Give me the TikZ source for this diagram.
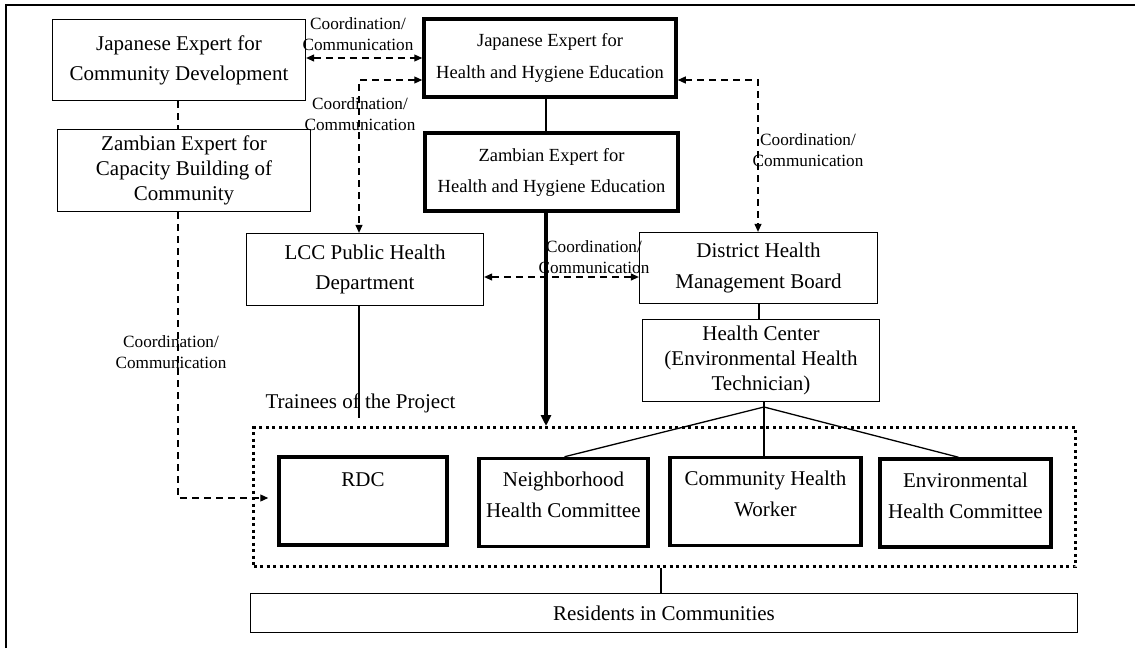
\documentclass[tikz,border=0pt]{standalone}
\usepackage{fontspec}
\setmainfont{Liberation Serif}
\usetikzlibrary{arrows.meta}
\begin{document}
\begin{tikzpicture}[x=1pt,y=-1pt,
  >={Triangle[length=8pt,width=7pt]},
  base/.style={draw,inner sep=0pt,align=center},
  thinbox/.style={base,line width=1.3pt,font=\fontsize{21}{31}\selectfont},
  thickbox/.style={base,line width=3.5pt,font=\fontsize{21}{31}\selectfont},
  lbl/.style={align=center,inner sep=0pt,font=\fontsize{17.2}{20.5}\selectfont},
  coord/.style={line width=1.2pt,dash pattern=on 7pt off 5pt},
  conn/.style={line width=1.3pt},
  groupbox/.style={draw,line width=3pt,dash pattern=on 3pt off 3.5pt,inner sep=0pt}
]
\useasboundingbox (0,0) rectangle (1135,648);
\draw[line width=2pt] (6,648) -- (6,5) -- (1135,5);

% boxes
\node[thinbox,minimum width=253pt,minimum height=81pt,font=\fontsize{21}{30}\selectfont] (JECD) at (179,60) {Japanese Expert for\\Community Development};
\node[thinbox,minimum width=253pt,minimum height=82pt,font=\fontsize{21}{25}\selectfont] (ZECB) at (184,170.5) {Zambian Expert for\\Capacity Building of\\Community};
\node[thickbox,minimum width=252pt,minimum height=78pt,font=\fontsize{18.5}{32}\selectfont] (JEHH) at (550,58) {Japanese Expert for\\Health and Hygiene Education};
\node[thickbox,minimum width=253pt,minimum height=78pt,font=\fontsize{18.5}{31}\selectfont] (ZEHH) at (551.5,172) {Zambian Expert for\\Health and Hygiene Education};
\node[thinbox,minimum width=237pt,minimum height=72pt,font=\fontsize{21}{30}\selectfont] (LCC) at (365,269.5) {LCC Public Health\\Department};
\node[thinbox,minimum width=238pt,minimum height=71pt] (DHMB) at (758.5,268) {District Health\\Management Board};
\node[thinbox,minimum width=237pt,minimum height=82pt,font=\fontsize{21}{25}\selectfont] (HC) at (761,360.5) {Health Center\\(Environmental Health\\Technician)};
\node[groupbox,minimum width=822pt,minimum height=139pt] (T) at (664.5,497) {};
\node[thickbox,minimum width=168pt,minimum height=88pt] (RDC) at (363,501) {RDC\\[11pt]\mbox{}};
\node[thickbox,minimum width=169pt,minimum height=88pt] (NHC) at (563.5,502.5) {Neighborhood\\Health Committee\\[-16pt]\mbox{}};
\node[thickbox,minimum width=191pt,minimum height=88pt] (CHW) at (765.5,501.5) {Community Health\\Worker\\[-16pt]\mbox{}};
\node[thickbox,minimum width=171pt,minimum height=88pt] (EHC) at (965.5,503) {Environmental\\Health Committee\\[-16pt]\mbox{}};
\node[thinbox,minimum width=827pt,minimum height=39pt] (RES) at (664,613) {Residents in Communities};
\node[anchor=base,inner sep=0pt,font=\fontsize{21}{25}\selectfont] (TL) at (360.5,408) {Trainees of the Project};

% labels
\node[lbl] (L1) at (358,34) {Coordination/\\Communication};
\node[lbl] (L2) at (360,114) {Coordination/\\Communication};
\node[lbl] (L3) at (808,150) {Coordination/\\Communication};
\node[lbl] (L4) at (594,257) {Coordination/\\Communication};
\node[lbl] (L5) at (171,352) {Coordination/\\Communication};

% helper coordinates
\coordinate (a1) at (359,80);
\coordinate (a2) at (758,80);
\coordinate (a3) at (178,498);
\coordinate (a4) at (560,277);
\coordinate (a5) at (546,0);
\coordinate (a6) at (359,418);
\coordinate (a7) at (759,0);
\coordinate (apex) at (764,407);
\coordinate (a8) at (661,0);
\coordinate (a9) at (0,58);

% connectors
\draw[coord,<->] (JECD.east |- a9) -- (JEHH.west |- a9);
\draw[coord,<->] (JEHH.west |- a1) -- (a1) -- (LCC.north -| a1);
\draw[coord,<->] (JEHH.east |- a2) -- (a2) -- (DHMB.north -| a2);
\draw[coord,<->] (LCC.east |- a4) -- (DHMB.west |- a4);
\draw[coord] (JECD.south -| a3) -- (ZECB.north -| a3);
\draw[coord,->,shorten >=9pt] (ZECB.south -| a3) -- (a3) -- (RDC.west |- a3);
\draw[conn] (JEHH.south -| a5) -- (ZEHH.north -| a5);
\draw[line width=3.5pt,-{Triangle[length=11pt,width=10pt]}] (ZEHH.south -| a5) -- (T.north -| a5);
\draw[conn] (LCC.south -| a6) -- (a6);
\draw[conn] (DHMB.south -| a7) -- (HC.north -| a7);
\draw[conn] (HC.south -| apex) -- (apex |- CHW.north);
\draw[conn] (apex) -- ([xshift=1pt]NHC.north);
\draw[conn] (apex) -- ([xshift=-7pt]EHC.north);
\draw[conn] (T.south -| a8) -- (RES.north -| a8);
\end{tikzpicture}
\end{document}
